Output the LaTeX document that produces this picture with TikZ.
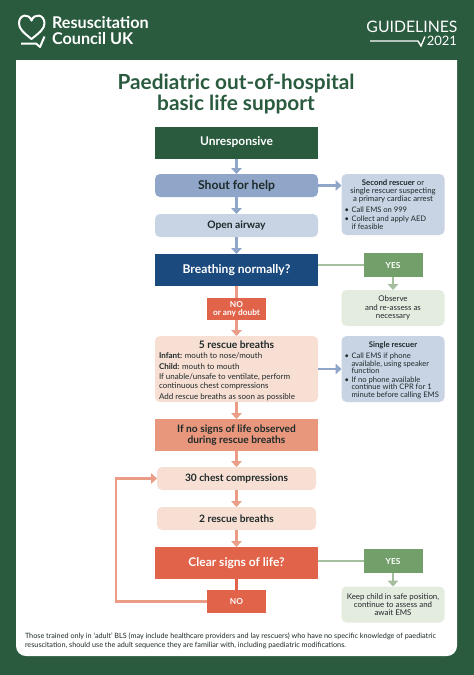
\documentclass[tikz,border=0pt]{standalone}
\usepackage{fontspec}
\setmainfont{Lato}
\usetikzlibrary{arrows.meta}
\definecolor{rcgreen}{HTML}{2A5B3F}
\definecolor{blueA}{HTML}{8FA6C8}
\definecolor{blueB}{HTML}{C8D3E4}
\definecolor{blueC}{HTML}{1B4A7F}
\definecolor{redA}{HTML}{E0634A}
\definecolor{redB}{HTML}{E8967C}
\definecolor{redC}{HTML}{F8DFD3}
\definecolor{greenA}{HTML}{739F6B}
\definecolor{greenB}{HTML}{E4ECE0}
\definecolor{arrowblue}{HTML}{8FA6C8}
\definecolor{arrowred}{HTML}{EA9C86}
\definecolor{arrowgreen}{HTML}{A4BF9E}
\definecolor{ink}{HTML}{1E2A2A}
\newcommand{\fs}[2]{\fontsize{#1}{#2}\selectfont}
\newcommand{\bul}[2]{\par\vspace{2pt}\noindent\makebox[7pt][l]{\textbullet}\parbox[t]{#1}{#2}}
\tikzset{
  x=1pt,y=-1pt,
  base/.style={inner sep=0pt,outer sep=0pt,align=center,text=ink,font=\fs{10.3}{12}\bfseries},
  sq/.style={base,minimum width=163pt},
  rnd/.style={base,rounded corners=5pt,minimum width=163pt,minimum height=23pt},
  whitetxt/.style={text=white},
  side/.style={base,rounded corners=5pt,minimum width=103pt,font=\fs{7.8}{8}},
  tag/.style={base,text=white,minimum width=59pt,font=\fs{8.3}{8.6}\bfseries},
  arr/.style={line width=2.6pt,-{Triangle[width=10.5pt,length=6pt]},shorten >=0pt},
  plain/.style={line width=2.6pt},
}
\begin{document}
\begin{tikzpicture}
\useasboundingbox (0,0) rectangle (474,675);
\fill[rcgreen] (0,0) rectangle (474,675);
\fill[white] (16,60) -- (457,60) -- (457,646) arc[start angle=0,end angle=90,radius=10] -- (26,656) arc[start angle=90,end angle=180,radius=10] -- cycle;
% logo
\draw[white,line width=2pt,line join=round] (31.5,39) .. controls (24,33) and (19,29) .. (19,23.5) .. controls (19,14) and (29,13) .. (31.5,20.5) .. controls (34,13) and (44.5,14) .. (44.5,23.5) .. controls (44.5,29) and (39,33) .. (31.5,39) -- cycle;
\draw[white,line width=2pt,line join=round] (21,43.5) -- (36,43.5) -- (40,47) -- (44.5,36.5);
\node[base,text=white,anchor=north west,align=left,font=\fs{16.2}{16}\bfseries] (brand) at (52,16) {Resuscitation\\Council UK};
\node[base,text=white,anchor=east,font=\fs{15.8}{16}] (guide) at (457.5,26.5) {GUIDELINES};
\node[base,text=white,anchor=east,font=\fs{13}{14}] (year) at (457,41) {2021};
\draw[white,line width=1.3pt] (370,41) -- (418,41) -- (421,46) -- (425,36.5);
% title
\node[base,text=rcgreen,font=\fs{20.8}{21}\bfseries] (title) at (236,94) {Paediatric out-of-hospital\\basic life support};
% main column
\node[sq,whitetxt,fill=rcgreen,minimum height=32pt,font=\fs{12}{13}\bfseries] (unresp) at (236.5,142.5) {Unresponsive};
\node[rnd,fill=blueA,font=\fs{12.2}{13}\bfseries] (shout) at (236.5,185.5) {Shout for help};
\node[rnd,fill=blueB] (airway) at (236.5,225.5) {Open airway};
\node[sq,whitetxt,fill=blueC,minimum height=32pt,font=\fs{12.1}{13}\bfseries] (breath) at (236.5,270) {Breathing normally?};
\node[tag,fill=redA,minimum height=22pt] (no1) at (236.5,309) {NO\\or any doubt};
\node[rnd,fill=redC,minimum height=66pt,align=left] (five) at (236.5,369) {\parbox{155pt}{\vspace*{3pt}\centering\fs{10.3}{11}\bfseries 5 rescue breaths\par\raggedright\fs{8}{8.4}\mdseries\vspace{1.6pt}
\textbf{Infant:} mouth to nose/mouth\par\vspace{2.4pt}
\textbf{Child:} mouth to mouth\par\vspace{2.4pt}
If unable/unsafe to ventilate, perform\\continuous chest compressions\par\vspace{2.4pt}
Add rescue breaths as soon as possible}};
\node[sq,fill=redB,minimum height=32pt,font=\fs{10.2}{10.8}\bfseries] (signs) at (236.5,435) {If no signs of life observed\\during rescue breaths};
\node[rnd,fill=redC,minimum width=159pt,font=\fs{10.2}{12}\bfseries] (thirty) at (236.5,478.5) {30 chest compressions};
\node[rnd,fill=redC,minimum width=159pt,font=\fs{10.2}{12}\bfseries] (two) at (236.5,518.5) {2 rescue breaths};
\node[sq,whitetxt,fill=redA,minimum height=32pt,font=\fs{12}{13}\bfseries] (clear) at (236.5,563) {Clear signs of life?};
\node[tag,fill=redA,minimum height=23pt] (no2) at (236.5,601.5) {NO};
% side column
\node[side,fill=blueB,minimum height=61pt] (second) at (393,204.5) {\parbox{97pt}{\centering\textbf{Second rescuer} or\\single rescuer suspecting\\a primary cardiac arrest\par\raggedright\fs{7.6}{7.4}\vspace{1.8pt}
\bul{88pt}{Call EMS on 999}
\bul{88pt}{Collect and apply AED\\if feasible}}};
\node[tag,fill=greenA,minimum height=24pt] (yes1) at (393,265) {YES};
\node[side,fill=greenB,minimum height=36pt,font=\fs{7.9}{8.3}] (observe) at (393,308) {Observe\\and re-assess as\\necessary};
\node[side,fill=blueB,minimum height=66pt] (single) at (393,369) {\parbox{97pt}{\vspace*{2pt}\centering\textbf{Single rescuer}\par\raggedright\fs{7.6}{7.4}\vspace{2.4pt}
\bul{88pt}{Call EMS if phone\\available, using speaker\\function}
\bul{88pt}{If no phone available\\continue with CPR for 1\\minute before calling EMS}}};
\node[tag,fill=greenA,minimum height=24pt] (yes2) at (393,561) {YES};
\node[side,fill=greenB,minimum height=36pt,font=\fs{7.9}{8.3}] (keep) at (393,604.5) {Keep child in safe position,\\continue to assess and\\await EMS};
% connectors
\draw[arr,arrowblue] (unresp) -- (shout);
\draw[arr,arrowblue] (shout) -- (airway);
\draw[arr,arrowblue] (airway) -- (breath);
\draw[arr,arrowblue] (shout) -- (second.west |- shout);
\draw[arr,arrowblue] (five.east |- single) -- (single);
\draw[plain,arrowred] (breath) -- (no1);
\draw[arr,arrowred] (no1) -- (five);
\draw[arr,arrowred] (five) -- (signs);
\draw[arr,arrowred] (signs) -- (thirty);
\draw[arr,arrowred] (thirty) -- (two);
\draw[arr,arrowred] (two) -- (clear);
\draw[plain,redA] (clear) -- (no2);
\draw[arr,arrowred,rounded corners=0pt] (no2.west) -- (116,601.5) -- (116,478.5) -- (thirty.west);
\draw[plain,arrowgreen] (breath.east |- yes1) -- (yes1);
\draw[arr,arrowgreen] (yes1) -- (observe);
\draw[plain,arrowgreen] (clear.east |- yes2) -- (yes2);
\draw[arr,arrowgreen] (yes2) -- (keep);
% footer
\node[base,anchor=west,align=left,font=\fs{7.25}{9.6}] (foot) at (25,641) {Those trained only in ‘adult’ BLS (may include healthcare providers and lay rescuers) who have no specific knowledge of paediatric\\resuscitation, should use the adult sequence they are familiar with, including paediatric modifications.};
\end{tikzpicture}
\end{document}
